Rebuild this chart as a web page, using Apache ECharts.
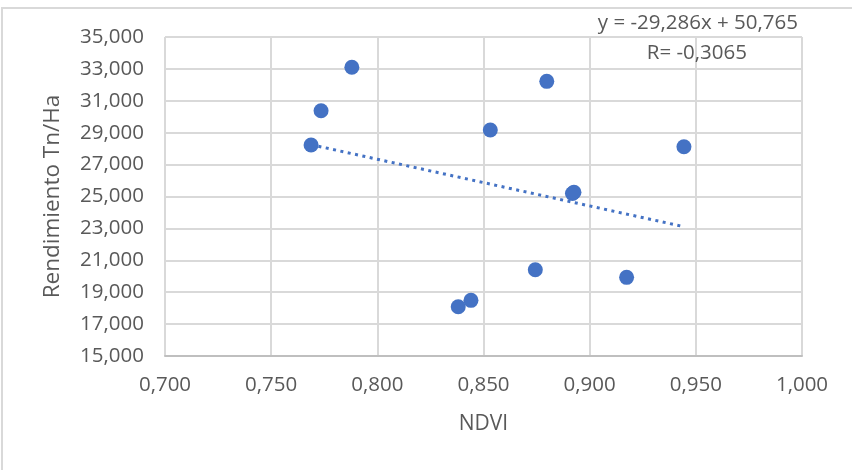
<!DOCTYPE html>
<html><head><meta charset="utf-8">
<script src="https://cdn.jsdelivr.net/npm/echarts@6/dist/echarts.min.js"></script>
<style>html,body{margin:0;padding:0;background:#fff}#c{width:852px;height:470px}</style>
</head><body><div id="c"></div>
<script>
// NDVI values (x)
const ndvi = [0.788, 0.7735, 0.7688, 0.8798, 0.8532, 0.9444, 0.8919, 0.8926, 0.8744, 0.9174, 0.8381, 0.8441];
// Rendimiento Tn/Ha values (y)
const rendimiento = [33.10, 30.38, 28.23, 32.22, 29.17, 28.12, 25.19, 25.27, 20.41, 19.93, 18.09, 18.49];
// trendline equation
const slope = -29.286;
const intercept = 50.765;
const rText = 'R= -0,3065';
const xAxisName = 'NDVI';
const yAxisName = 'Rendimiento Tn/Ha';
const xMin = 0.7, xMax = 1.0, xStep = 0.05;
const yMin = 15, yMax = 35, yStep = 2;

const fmt = v => v.toFixed(3).replace('.', ',');
const pts = ndvi.map((x, i) => [x, rendimiento[i]]);
const tx0 = Math.min(...ndvi), tx1 = Math.max(...ndvi);
const trend = [[tx0, slope * tx0 + intercept], [tx1, slope * tx1 + intercept]];
const eqText = 'y = ' + fmt(slope) + 'x + ' + fmt(intercept);

const FONT = 'Open Sans';
const TXT = '#595959';
const chart = echarts.init(document.getElementById('c'), null, {renderer: 'canvas'});
chart.setOption({
  animation: false,
  backgroundColor: '#fff',
  grid: {left: 165, top: 37, right: 50, bottom: 114},
  xAxis: {
    type: 'value', min: xMin, max: xMax, interval: xStep,
    name: xAxisName, nameLocation: 'middle', nameGap: 58,
    nameTextStyle: {color: TXT, fontFamily: FONT, fontSize: 21},
    axisLine: {show: true, onZero: false, lineStyle: {color: '#bfbfbf', width: 2}},
    axisTick: {show: false},
    axisLabel: {color: TXT, fontFamily: FONT, fontSize: 20.5, margin: 19, formatter: v => fmt(v)},
    splitLine: {show: true, lineStyle: {color: '#d9d9d9', width: 2}}
  },
  yAxis: {
    type: 'value', min: yMin, max: yMax, interval: yStep,
    name: yAxisName, nameLocation: 'middle', nameGap: 101, nameRotate: 90,
    nameTextStyle: {color: TXT, fontFamily: FONT, fontSize: 22.5},
    axisLine: {show: false},
    axisTick: {show: false},
    axisLabel: {color: TXT, fontFamily: FONT, fontSize: 20.5, margin: 21, formatter: v => fmt(v)},
    splitLine: {show: true, lineStyle: {color: '#d9d9d9', width: 2}}
  },
  graphic: [
    {type: 'rect', shape: {x: 2, y: 8, width: 900, height: 500}, style: {fill: 'none', stroke: '#d9d9d9', lineWidth: 2}, z: -10},
    {type: 'text', right: 54, top: 13, style: {text: eqText, fill: TXT, font: '20.5px "Open Sans"', textAlign: 'right'}, z: 100},
    {type: 'text', right: 105, top: 43, style: {text: rText, fill: TXT, font: '20.5px "Open Sans"', textAlign: 'right'}, z: 100}
  ],
  series: [
    {type: 'line', data: trend, symbol: 'none', z: 3,
     lineStyle: {color: '#4472C4', width: 3, type: [3, 4.5], cap: 'butt'}},
    {type: 'scatter', data: pts, symbol: 'circle', symbolSize: 15, z: 4,
     itemStyle: {color: '#4472C4', opacity: 1}}
  ]
});
</script></body></html>
